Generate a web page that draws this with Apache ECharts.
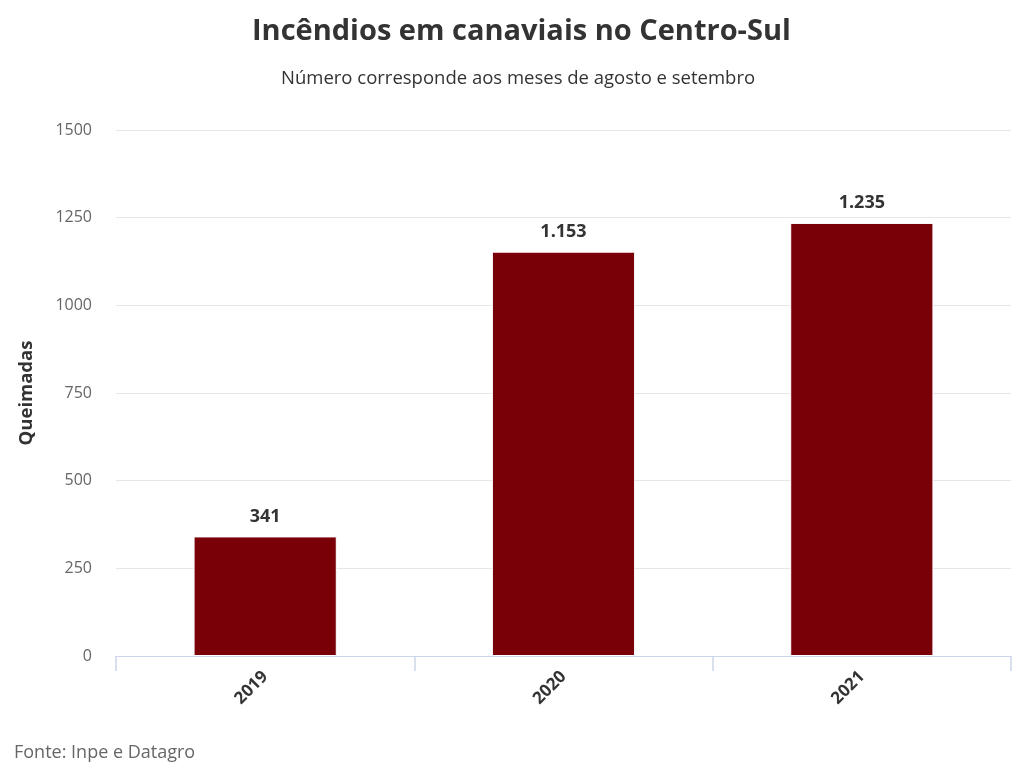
<!DOCTYPE html>
<html>
<head>
<meta charset="utf-8">
<script src="https://cdn.jsdelivr.net/npm/echarts@6/dist/echarts.min.js"></script>
<style>
  html, body { margin: 0; padding: 0; background: #fff; }
  #main { width: 1022px; height: 770px; }
</style>
</head>
<body>
<div id="main"></div>
<script>
// dados
var anos = ['2019', '2020', '2021'];
var queimadas = [341, 1153, 1235];
var yTicks = [0, 250, 500, 750, 1000, 1250, 1500];

function fmt(v) {
  return String(v).replace(/\B(?=(\d{3})+(?!\d))/g, '.');
}

var chart = echarts.init(document.getElementById('main'));

var option = {
  textStyle: { fontFamily: 'Open Sans' },
  title: [{
    text: 'Incêndios em canaviais no Centro-Sul',
    left: 247,
    top: 12,
    textStyle: { fontFamily: 'Open Sans', fontSize: 29, fontWeight: 'bold', color: '#333333' }
  }, {
    text: 'Número corresponde aos meses de agosto e setembro',
    left: 276,
    top: 64,
    textStyle: { fontFamily: 'Open Sans', fontSize: 18.5, fontWeight: 'normal', color: '#333333' }
  }, {
    text: 'Fonte: Inpe e Datagro',
    left: 9,
    top: 739,
    textStyle: { fontFamily: 'Open Sans', fontSize: 18, fontWeight: 'normal', color: '#666666' }
  }],
  grid: { left: 116, right: 11, top: 130, bottom: 114 },
  xAxis: {
    type: 'category',
    data: anos,
    axisLine: { lineStyle: { color: '#ccd6eb', width: 1 } },
    axisTick: { show: true, length: 15, lineStyle: { color: '#ccd6eb', width: 1.5 } },
    axisLabel: {
      rotate: 45,
      margin: 18,
      fontFamily: 'Open Sans',
      fontSize: 17,
      fontWeight: 'bold',
      color: '#333333'
    }
  },
  yAxis: {
    type: 'value',
    min: yTicks[0],
    max: yTicks[yTicks.length - 1],
    interval: 250,
    name: 'Queimadas',
    nameLocation: 'middle',
    nameGap: 80,
    nameTextStyle: { fontFamily: 'Open Sans', fontSize: 18.5, fontWeight: 'bold', color: '#333333' },
    axisLine: { show: false },
    axisTick: { show: false },
    axisLabel: {
      margin: 24,
      fontFamily: 'Open Sans',
      fontSize: 16,
      color: '#666666',
      formatter: function (v) { return String(v); }
    },
    splitLine: { lineStyle: { color: '#e6e6e6', width: 1 } }
  },
  series: [{
    type: 'bar',
    data: queimadas,
    barWidth: '48%',
    itemStyle: { color: '#7a0008', borderColor: '#ffffff', borderWidth: 1 },
    label: {
      show: true,
      position: 'top',
      distance: 11,
      formatter: function (p) { return fmt(p.value); },
      fontFamily: 'Open Sans',
      fontSize: 18,
      fontWeight: 'bold',
      color: '#333333'
    }
  }]
};

chart.setOption(option);
</script>
</body>
</html>
